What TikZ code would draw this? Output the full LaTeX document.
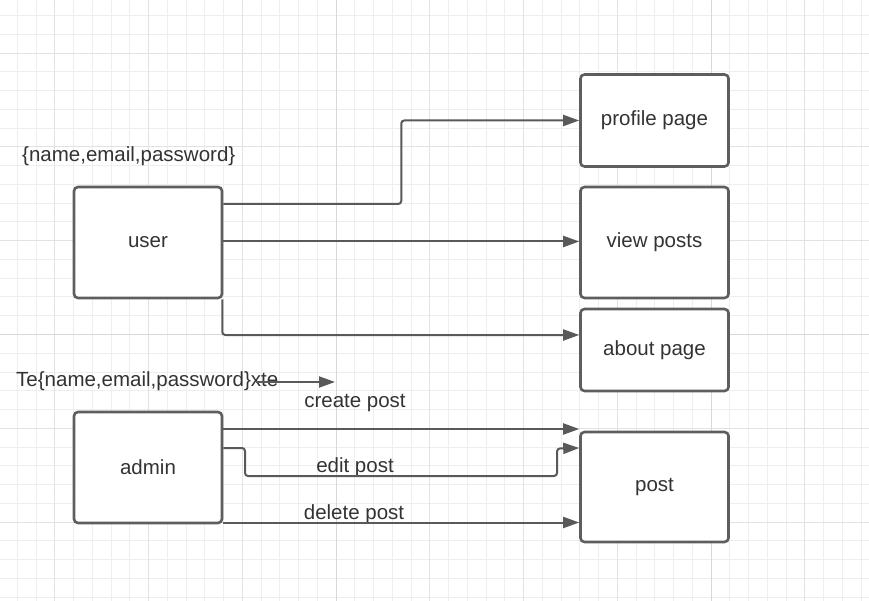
\documentclass[tikz,border=0pt]{standalone}
\usepackage{fontspec}
\setmainfont{Liberation Sans}
\usetikzlibrary{arrows.meta,calc}
\definecolor{gridminor}{HTML}{EEEEEE}
\definecolor{gridmid}{HTML}{E2E2E2}
\definecolor{gridmajor}{HTML}{D8D8D8}
\definecolor{edge}{HTML}{5E5E5E}
\definecolor{wire}{HTML}{595959}
\definecolor{ink}{HTML}{333333}
\tikzset{
  box/.style={draw=edge, line width=2.6pt, rounded corners=4pt, fill=white,
    minimum width=148pt, text=ink, font=\labelfont},
  conn/.style={draw=wire, line width=2pt, rounded corners=3pt,
    -{Triangle[length=16pt,width=11pt]}},
  lbl/.style={text=ink, font=\labelfont, inner sep=0pt},
}
\newcommand{\labelfont}{\fontsize{20.5}{24}\selectfont}
\begin{document}
\begin{tikzpicture}[x=1pt,y=-1pt]
\useasboundingbox (0,0) rectangle (869,601);
\clip (0,0) rectangle (869,601);
\fill[white] (0,0) rectangle (869,601);
% background grid
\foreach \k in {0,...,46} \draw[gridminor, line width=1pt] ({17.25+18.75*\k},0) -- ++(0,601);
\foreach \k in {0,...,32} \draw[gridminor, line width=1pt] (0,{15.75+18.75*\k}) -- ++(869,0);
\foreach \k in {0,...,9} \draw[gridmid, line width=1pt] ({54.75+93.75*\k},0) -- ++(0,601);
\foreach \k in {0,...,6} \draw[gridmid, line width=1pt] (0,{53.25+93.75*\k}) -- ++(869,0);
\foreach \x in {336.25,711.25} \draw[gridmajor, line width=1.2pt] (\x,0) -- ++(0,601);
\draw[gridmajor, line width=1.2pt] (0,334.5) -- ++(869,0);

% boxes
\node[box, minimum height=111pt] (user)    at (148,242.5) {user};
\node[box, minimum height=111pt] (admin)   at (148,467.5) {admin};
\node[box, minimum height=92pt]  (profile) at (654.5,120.5) {profile page};
\node[box, minimum height=111pt] (view)    at (654.5,242.5) {view posts};
\node[box, minimum height=82pt]  (about)   at (654.5,350) {about page};
\node[box, minimum height=110pt] (post)    at (654.5,487) {post};

% free text
\node[lbl, anchor=west] (attrs) at (22,156) {\{name,email,password\}};
\node[lbl, anchor=west] (te) at (16,381) {Te\{name,email,password\}xte};
\node[lbl] (lcreate) at (355,402.5) {create post};
\node[lbl] (ledit)   at (355,467) {edit post};
\node[lbl] (ldelete) at (354,514) {delete post};

% user connectors
\coordinate (m1) at ($(user.east)!0.5!(profile.west)$);
\draw[conn] ([yshift=38.5pt]user.east) -| (m1) |- (profile.west);
\draw[conn] ([yshift=1pt]user.east) -- ([yshift=1pt]view.west);
\draw[conn] ([xshift=-1pt]user.south east) |- ([yshift=15pt]about.west);

% stray arrow after the second text
\coordinate (tetip) at (335,382);
\draw[conn] ([xshift=-22pt,yshift=-1pt]te.east) -- (tetip);

% admin connectors
\coordinate (c1) at ([yshift=38.5pt]admin.east);
\coordinate (e1) at ([yshift=19.5pt]admin.east);
\coordinate (d1) at ([yshift=-55pt]admin.east);
\draw[conn] (c1) -- (c1 -| post.west);
\draw[conn] (e1) -| (245,476) -| (557,448.5) -- (e1 -| post.west);
\draw[conn] (d1) -- (d1 -| post.west);
\end{tikzpicture}
\end{document}
